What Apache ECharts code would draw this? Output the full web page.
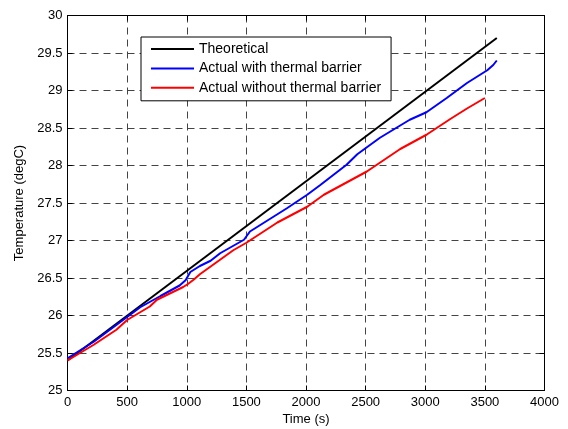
<!DOCTYPE html>
<html>
<head>
<meta charset="utf-8">
<script src="https://cdn.jsdelivr.net/npm/echarts@6/dist/echarts.min.js"></script>
<style>html,body{margin:0;padding:0;background:#fff}#c{width:568px;height:429px}</style>
</head>
<body>
<div id="c"></div>
<script>
const seriesNames = ["Theoretical", "Actual with thermal barrier", "Actual without thermal barrier"];
const theoTime = [0, 3600];
const theoTemp = [25.4, 29.7];
const withTime = [0, 220, 500, 610, 780, 940, 990, 1030, 1110, 1200, 1280, 1480, 1530, 1840, 2010, 2120, 2340, 2430, 2620, 2870, 3010, 3180, 3350, 3520, 3570, 3600];
const withTemp = [25.43, 25.65, 25.98, 26.11, 26.26, 26.40, 26.47, 26.58, 26.66, 26.73, 26.83, 27.01, 27.12, 27.43, 27.61, 27.74, 28.01, 28.15, 28.37, 28.61, 28.71, 28.90, 29.10, 29.27, 29.34, 29.40];
const withoutTime = [0, 220, 410, 500, 690, 750, 970, 1010, 1060, 1110, 1390, 1500, 1760, 2010, 2150, 2510, 2790, 3010, 3210, 3350, 3500];
const withoutTemp = [25.40, 25.61, 25.81, 25.94, 26.12, 26.21, 26.38, 26.42, 26.48, 26.55, 26.87, 26.97, 27.24, 27.45, 27.61, 27.92, 28.22, 28.41, 28.62, 28.76, 28.90];
const colors = ["#000000", "#0000ff", "#ff0000"];

function pairs(t, v) { return t.map((x, i) => [x, v[i]]); }

const font = "'Liberation Sans', Arial, sans-serif";
const chart = echarts.init(document.getElementById('c'), null, {renderer: 'canvas'});
const dashed = {show: true, lineStyle: {color: '#444', type: [7, 5], width: 1}};
const common = {
  axisLine: {show: true, onZero: false, lineStyle: {color: '#000', width: 1}},
  axisTick: {show: true, inside: true, length: 5, lineStyle: {color: '#000'}},
};
chart.setOption({
  animation: false,
  backgroundColor: '#fff',
  textStyle: {fontFamily: font},
  grid: {left: 67.5, top: 15.5, right: 23.5, bottom: 38.5, show: true, borderColor: '#000', borderWidth: 1, containLabel: false, outerBoundsMode: 'none'},
  legend: {
    orient: 'vertical', left: 141, top: 37,
    data: seriesNames,
    itemWidth: 43, itemHeight: 14, itemGap: 5.4,
    padding: [5, 10, 6, 9],
    itemStyle: {opacity: 0},
    lineStyle: {width: 2},
    backgroundColor: '#fff', borderColor: '#000', borderWidth: 1,
    textStyle: {fontSize: 14, color: '#000', fontFamily: font}
  },
  xAxis: [
    Object.assign({type: 'value', min: 0, max: 4000, interval: 500, position: 'bottom',
      name: 'Time (s)', nameLocation: 'middle', nameGap: 21,
      nameTextStyle: {fontSize: 13, color: '#000', fontFamily: font},
      axisLabel: {fontSize: 13, color: '#000', margin: 5, fontFamily: font, formatter: v => String(v)},
      splitLine: dashed}, common),
    Object.assign({type: 'value', min: 0, max: 4000, interval: 500, position: 'top',
      axisLabel: {show: false}, splitLine: {show: false}}, common)
  ],
  yAxis: [
    Object.assign({type: 'value', min: 25, max: 30, interval: 0.5, position: 'left',
      name: 'Temperature (degC)', nameLocation: 'middle', nameGap: 36,
      nameTextStyle: {fontSize: 13, color: '#000', fontFamily: font},
      axisLabel: {fontSize: 13, color: '#000', margin: 5, fontFamily: font, formatter: v => String(v)},
      splitLine: dashed}, common),
    Object.assign({type: 'value', min: 25, max: 30, interval: 0.5, position: 'right',
      axisLabel: {show: false}, splitLine: {show: false}}, common)
  ],
  series: [
    {name: seriesNames[0], type: 'line', data: pairs(theoTime, theoTemp), symbol: 'none', color: colors[0], lineStyle: {width: 2, color: colors[0]}},
    {name: seriesNames[1], type: 'line', data: pairs(withTime, withTemp), symbol: 'none', color: colors[1], lineStyle: {width: 2, color: colors[1]}},
    {name: seriesNames[2], type: 'line', data: pairs(withoutTime, withoutTemp), symbol: 'none', color: colors[2], lineStyle: {width: 2, color: colors[2]}}
  ]
});
</script>
</body>
</html>
